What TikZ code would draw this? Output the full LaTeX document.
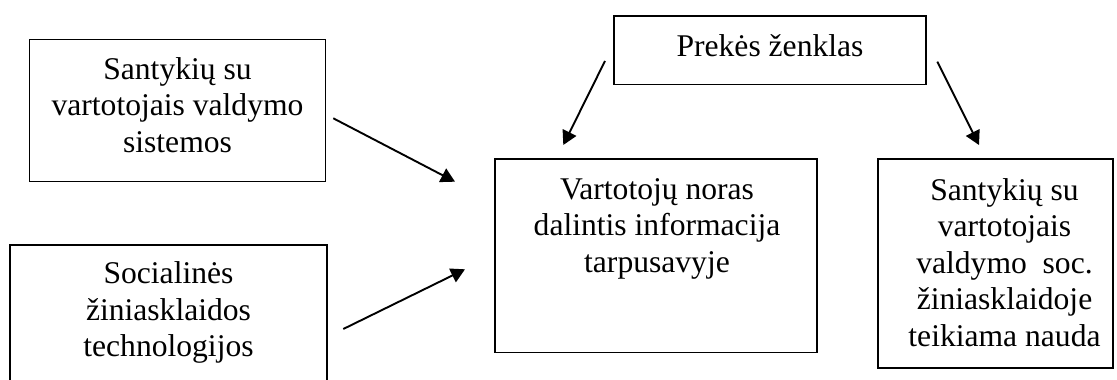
\documentclass[tikz,border=0pt]{standalone}
\usepackage{fontspec}
\setmainfont{Liberation Serif}
\usetikzlibrary{arrows.meta}
\begin{document}
\begin{tikzpicture}[x=1pt,y=-1pt,
  box/.style={draw, line width=1.4pt, inner sep=0},
  lbl/.style={anchor=north, inner sep=0, align=center,
              font=\fontsize{31.6}{36.4}\selectfont},
  arr/.style={line width=1.9pt, -{Triangle[length=14pt,width=15pt]}}]
\useasboundingbox (0,0) rectangle (1117,380);

% boxes
\node[box, minimum width=296.4pt, minimum height=142.2pt] (crm)    at (177.5,110.4) {};
\node[box, minimum width=317pt,   minimum height=175pt]   (tech)   at (168.5,332.5) {};
\node[box, minimum width=322pt,   minimum height=193.3pt] (share)  at (656,255.65) {};
\node[box, minimum width=312pt,   minimum height=68.5pt]  (brand)  at (770,50.25) {};
\node[box, minimum width=235pt,   minimum height=209pt]   (gain)   at (995.5,263.5) {};

% texts
\node[lbl] (crmText)   at (177.5,57.4)  {Santykių su\\vartotojais valdymo\\sistemos};
\node[lbl] (techText)  at (168.5,261.7) {Socialinės\\žiniasklaidos\\technologijos};
\node[lbl] (shareText) at (657,178.4)   {Vartotojų noras\\dalintis informacija\\tarpusavyje};
\node[lbl, anchor=base] (brandText) at (770,56.7) {Prekės ženklas};
\node[lbl] (gainText)  at (1004.5,178.4) {Santykių su\\vartotojais\\valdymo~~soc.\\žiniasklaidoje\\teikiama nauda};

% arrow end points
\coordinate (a1) at (333.3,118.3);
\coordinate (a2) at (455,181.7);
\coordinate (b1) at (343.3,329);
\coordinate (b2) at (465,269.3);
\coordinate (c1) at (605,61);
\coordinate (c2) at (563.3,145);
\coordinate (d1) at (937.3,61.7);
\coordinate (d2) at (979,145);

% arrows
\draw[arr] (a1) -- (a2);
\draw[arr] (b1) -- (b2);
\draw[arr] (c1) -- (c2);
\draw[arr] (d1) -- (d2);
\end{tikzpicture}
\end{document}
